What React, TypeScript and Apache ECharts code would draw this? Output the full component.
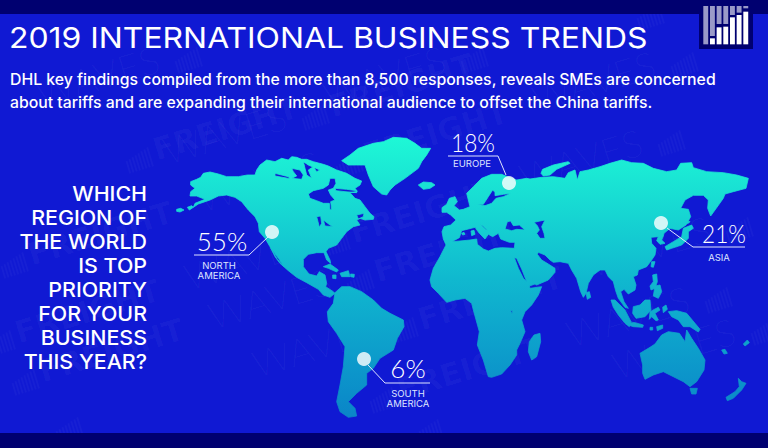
import React, { useEffect, useRef } from "react";
import * as echarts from "echarts";

type Pt = number[];
const crop = (x0: number, y0: number, pts: Pt[]): Pt[] => pts.map(([x, y]) => [x0 + x / 3, y0 + y / 3]);
const NA = (p: Pt[]) => crop(160, 120, p);
const SA = (p: Pt[]) => crop(160, 270, p);
const EU = (p: Pt[]) => crop(420, 165, p);
const RU = (p: Pt[]) => crop(440, 120, p);
const AS = (p: Pt[]) => crop(550, 220, p);
const SO = (p: Pt[]) => crop(420, 270, p);

const northAmerica = NA([[92,185],[110,178],[122,172],[130,160],[150,156],[175,162],[200,170],[235,170],[262,165],[285,165],[290,150],[300,135],[320,120],[345,125],[365,115],[385,120],[395,110],[410,112],[425,118],[440,118],[460,125],[490,133],[505,138],[530,150],[560,160],[585,175],[605,183],[600,195],[585,205],[592,214],[570,218],[585,235],[600,240],[615,260],[630,280],[642,290],[640,298],[615,300],[600,295],[590,300],[600,315],[580,320],[560,335],[545,355],[530,375],[505,385],[498,395],[510,420],[512,430],[500,420],[492,398],[470,398],[445,403],[430,418],[430,440],[447,462],[470,468],[478,455],[495,465],[500,490],[497,500],[520,515],[525,520],[510,532],[490,525],[475,508],[440,488],[410,472],[385,452],[360,430],[345,410],[330,380],[315,355],[298,335],[295,310],[285,290],[265,270],[245,245],[225,232],[200,225],[175,228],[150,240],[115,252],[100,262],[105,250],[135,238],[110,228],[90,228],[92,215],[105,205],[92,195]]);
const northAmericaWaters = [
  NA([[445,222],[460,212],[490,205],[505,195],[510,175],[525,175],[528,190],[520,205],[505,210],[512,225],[525,240],[512,245],[515,268],[510,270],[508,250],[490,250],[470,242],[450,235]]),
  NA([[525,205],[560,208],[590,212],[590,218],[555,215],[528,212]]),
  NA([[395,145],[420,150],[430,165],[425,178],[395,175],[410,168],[400,155]]),
  NA([[430,125],[445,135],[480,150],[470,155],[460,140],[445,150],[455,175],[440,165],[435,145]]),
  NA([[345,160],[385,170],[390,176],[345,168]]),
  NA([[470,290],[482,288],[485,310],[478,322],[474,305]]),
  NA([[490,300],[510,315],[520,320],[495,318]]),
  NA([[590,285],[612,280],[610,290],[595,297]]),
  NA([[333,385],[355,415],[372,440],[352,418]]),
];
const southAmerica = SA([[525,68],[545,50],[570,50],[605,65],[640,90],[665,115],[690,130],[730,150],[732,170],[712,205],[700,240],[660,265],[640,295],[620,310],[620,345],[590,370],[565,395],[585,415],[590,438],[565,442],[540,425],[530,395],[540,345],[550,290],[555,230],[530,190],[505,155],[502,125],[520,100]]);
const greenland = NA([[545,122],[570,105],[595,85],[640,70],[670,65],[700,52],[740,55],[765,70],[785,85],[812,85],[800,105],[785,125],[775,145],[735,175],[705,195],[690,210],[680,225],[665,222],[640,200],[625,165],[615,135],[590,135],[565,135]]);
const eurasiaAfrica = [
  ...EU([[70,222],[66,200],[72,185],[92,180],[108,165],[92,150],[80,142],[66,142],[66,128],[80,118],[88,100],[105,95],[112,110],[102,122],[118,135],[130,133],[150,125],[145,105],[140,85],[160,65],[185,40],[215,28],[245,28],[262,35],[290,45],[320,40]]),
  ...RU([[270,177],[305,172],[340,170],[375,175],[385,158],[405,150],[412,180],[420,155],[445,150],[480,140],[510,130],[545,120],[575,128],[610,130],[640,145],[680,155],[710,150],[722,130],[755,128],[760,143],[800,155],[850,158],[890,165],[925,175],[918,205],[880,215],[855,222],[850,235],[825,270],[812,288],[803,265],[805,240],[790,226],[760,226],[735,240],[722,265],[745,268],[752,290],[738,315],[715,330],[690,325],[672,340]]),
  ...AS([[340,48],[335,60],[345,70],[330,73],[320,62],[325,50],[303,52],[305,70],[318,85],[315,105],[305,120],[290,140],[265,150],[262,165],[250,170],[258,195],[255,210],[235,222],[222,208],[212,215],[222,245],[235,265],[225,262],[205,235],[197,212],[190,185],[175,170],[165,150],[150,150],[130,165],[115,190],[108,220],[100,232],[92,215],[80,175],[65,150],[55,130],[30,125]]),
  ...EU([[400,292],[390,285],[375,270],[355,262],[352,268],[365,285],[385,297],[405,310],[405,322],[385,345],[350,360]]),
  ...SO([[345,42],[328,48],[330,55],[365,50],[355,75],[335,105],[315,125],[305,150],[315,185],[300,220],[290,240],[290,255],[270,285],[245,312],[215,322],[205,320],[190,270],[172,225],[178,185],[160,120],[155,100],[135,85],[105,90],[80,97],[55,70],[35,50],[30,30]]),
  ...EU([[40,310],[60,275],[78,240]]),
];
const eurasiaWaters = [
  EU([[95,230],[118,218],[125,197],[165,187],[178,205],[195,222],[205,208],[218,215],[235,205],[242,222],[268,232],[285,232],[283,250],[245,248],[225,250],[205,258],[190,252],[172,238],[170,222],[150,225],[120,228]]),
  EU([[180,178],[190,184],[205,198],[195,192]]),
  EU([[255,192],[262,170],[272,168],[280,182],[298,180],[315,195],[290,193],[275,197]]),
  EU([[342,172],[360,168],[375,165],[365,185],[372,205],[375,220],[360,220],[350,205],[358,195],[352,182]]),
  EU([[170,118],[190,118],[205,95],[218,75],[225,82],[225,92],[250,88],[272,85],[250,95],[228,100],[215,115],[195,122]]),
  EU([[283,278],[290,280],[305,312],[320,350],[310,340],[295,310]]),
  SO([[272,122],[278,122],[276,132]]),
];
const australia = SO([[660,250],[690,232],[705,222],[725,195],[745,185],[778,190],[795,215],[800,180],[815,205],[835,235],[855,270],[852,300],[830,335],[810,350],[790,335],[760,320],[730,305],[700,315],[675,328],[668,310],[668,285]]);
const islands = [
  NA([[50,268],[62,265],[72,270],[60,276],[50,274]]),
  NA([[82,262],[95,257],[100,262],[88,270]]),
  NA([[490,440],[510,432],[535,450],[530,456],[505,445]]),
  NA([[540,460],[565,452],[570,470],[545,470]]),
  NA([[572,462],[583,463],[582,472],[572,470]]),
  NA([[518,465],[528,465],[528,476],[518,475]]),
  NA([[775,195],[790,186],[815,188],[825,195],[810,205],[790,208]]),
  EU([[125,205],[132,202],[135,208],[128,210]]),
  EU([[153,198],[162,196],[165,208],[155,212]]),
  RU([[303,160],[308,148],[340,135],[385,125],[390,130],[350,148],[330,165],[310,168]]),
  AS([[400,25],[425,15],[430,25],[415,35],[415,55],[395,75],[365,85],[350,90],[345,80],[370,65],[395,50]]),
  AS([[408,2],[420,5],[415,10],[405,10]]),
  AS([[305,125],[315,125],[310,142],[303,140]]),
  AS([[308,165],[320,162],[322,185],[315,205],[303,210],[300,198],[310,185]]),
  AS([[315,198],[330,195],[335,215],[325,235],[310,228]]),
  AS([[108,218],[118,215],[122,232],[112,238]]),
  AS([[183,240],[195,240],[225,270],[243,305],[238,320],[225,310],[205,285],[190,262]]),
  AS([[250,260],[270,255],[285,240],[300,240],[303,270],[285,290],[258,295],[248,280]]),
  AS([[300,275],[325,262],[330,270],[315,280],[325,300],[318,302],[305,290],[298,298]]),
  AS([[338,262],[348,255],[352,268],[340,278]]),
  SO([[620,155],[645,158],[670,165],[668,172],[640,170],[625,165]]),
  SO([[745,125],[770,122],[800,130],[825,160],[840,178],[835,186],[810,170],[790,170],[775,150],[755,140]]),
  SO([[690,172],[698,172],[698,180],[690,180]]),
  SO([[710,170],[728,165],[728,175],[712,182]]),
  SO([[810,355],[832,355],[828,372],[815,372]]),
  SO([[955,325],[965,335],[978,340],[965,360],[940,385],[922,392],[918,382],[945,365],[958,350]]),
  SO([[905,240],[915,238],[922,250],[912,252]]),
  SO([[970,222],[982,210],[988,218],[975,228]]),
  SO([[342,195],[360,190],[362,215],[350,260],[335,270],[325,245],[328,215]]),
];

const titleText = "2019 INTERNATIONAL BUSINESS TRENDS";
const introLines = [
  "DHL key findings compiled from the more than 8,500 responses, reveals SMEs are concerned",
  "about tariffs and are expanding their international audience to offset the China tariffs.",
];
const questionLines = ["WHICH", "REGION OF", "THE WORLD", "IS TOP", "PRIORITY", "FOR YOUR", "BUSINESS", "THIS YEAR?"];

const regionNames = ["North America", "Europe", "Asia", "South America"];
const regionShares = [55, 18, 21, 6];
const regionCaptions = [["NORTH", "AMERICA"], ["EUROPE"], ["ASIA"], ["SOUTH", "AMERICA"]];
const regionPoints = [[272, 232], [509, 183], [661, 223], [364, 359]];
const regionShareAnchors = [[222, 241], [473, 142], [724, 233], [408, 368]];
const regionShareWidths = [1, 0.87, 0.87, 1];
const regionCaptionAnchors = [[219, 265], [472, 163], [719, 257], [408, 393]];
const regionLeaders = [
  [[268, 237], [249, 255], [194, 255]],
  [[506, 175], [498, 156], [448, 156]],
  [[667, 228], [693, 247], [745, 247]],
  [[368, 365], [385, 383], [430, 383]],
];

const watermarkAnchors = [
  [207, 65], [-128, 165], [542, -35], [493, 65], [158, 165], [-177, 265], [33, 270], [368, 170], [703, 70],
  [-1, 222], [334, 122], [669, 22], [20, 348], [355, 248], [690, 148], [44, 387], [379, 287], [714, 187],
  [423, 335], [88, 435], [758, 235], [402, 405], [737, 305], [67, 505], [448, 437], [783, 337], [113, 537],
];
const logoGrey = [[18, 133], [18, 108], [18, 72], [18, 72], [18, 45], [18, 38], [18, 25]];
const logoWhite = [null, [115, 133], [82, 133], [80, 133], [52, 133], [45, 133], [35, 133]];

function ring(pts: Pt[], clockwise: boolean): Pt[] {
  let a = 0;
  pts.forEach((p, i) => {
    const q = pts[(i + 1) % pts.length];
    a += p[0] * q[1] - q[0] * p[1];
  });
  const ordered = a > 0 === clockwise ? pts : [...pts].reverse();
  return [...ordered, ordered[0]];
}
const poly = (outer: Pt[], holes: Pt[][] = []) => [ring(outer, true), ...holes.map((h) => ring(h, false))];

const landGeo: any = {
  type: "FeatureCollection",
  features: [{
    type: "Feature",
    properties: { name: "land" },
    geometry: {
      type: "MultiPolygon",
      coordinates: [
        poly(northAmerica, northAmericaWaters),
        poly(southAmerica),
        poly(greenland),
        poly(eurasiaAfrica, eurasiaWaters),
        poly(australia),
        ...islands.map((i) => poly(i)),
      ],
    },
  }],
};

const WHITE = "#ffffff";
const SOFT = "#dfe4ff";
const MARK = "rgba(255,255,255,0.03)";
const ANGLE = (17 * Math.PI) / 180;

// A word of the watermark is kept only when it lies wholly on the open blue page.
function wordFits(x: number, y: number, start: number, length: number, height: number) {
  const c = Math.cos(ANGLE);
  const s = Math.sin(ANGLE);
  return [[start, 0], [start + length, 0], [start, height], [start + length, height]].every(([u, v]) => {
    const px = x + u * c - v * s;
    const py = y - u * s - v * c;
    return px >= 1 && px <= 767 && py >= 15 && py <= 432;
  });
}

function watermark([x, y]: number[]) {
  const bars = [0, 1, 2, 3, 4, 5, 6, 7].map((i) => ({
    type: "rect",
    shape: { x: -30 + i * 3.4, y: -20 + (7 - i), width: 2, height: 20 - (7 - i) },
    style: { fill: MARK },
  }));
  const words: any[] = [];
  if (wordFits(x, y, 0, 170, 30)) words.push({ type: "text", x: 0, y: 0, style: { text: "FREIGHT", fontFamily: "DejaVu Sans", fontWeight: "bold", fontSize: 31, fill: MARK, textVerticalAlign: "bottom" } });
  if (wordFits(x, y, 178, 135, 30)) words.push({ type: "text", x: 178, y: 0, style: { text: "WAVES", fontFamily: "Lato", fontWeight: 300, fontSize: 38, fill: MARK, textVerticalAlign: "bottom" } });
  return { type: "group", x, y, rotation: ANGLE, z: -1, silent: true, children: [...bars, ...words] };
}

const txt = (text: string, x: number, y: number, fontSize: number, align: string, fill: string, fontFamily: string, fontWeight: any, scaleX = 1) => ({
  type: "text",
  x,
  y,
  scaleX,
  z: 20,
  silent: true,
  style: { text, fontSize, fontFamily, fontWeight, fill, textAlign: align, textVerticalAlign: "middle" },
});

export default function App() {
  const ref = useRef<HTMLDivElement>(null);
  useEffect(() => {
    document.body.style.margin = "0";
    document.body.style.background = "#1019d3";
    const chart = echarts.init(ref.current!, null, { renderer: "svg" });
    echarts.registerMap("land", landGeo);
    const elements: any[] = [
      ...watermarkAnchors.map(watermark),
      { type: "rect", z: 18, silent: true, shape: { x: 0, y: 0, width: 768, height: 14 }, style: { fill: "#000070" } },
      { type: "rect", z: 18, silent: true, shape: { x: 0, y: 433, width: 768, height: 15 }, style: { fill: "#000070" } },
      { type: "rect", z: 18, silent: true, shape: { x: 699, y: 0, width: 54, height: 49 }, style: { fill: "#000070" } },
    ];
    logoGrey.forEach((g, i) => {
      const x = 703.3 + i * 6.67;
      elements.push({ type: "rect", z: 19, silent: true, shape: { x, y: g[0] / 3, width: 4.9, height: (g[1] - g[0]) / 3 }, style: { fill: "#9a9ac8" } });
      const w = logoWhite[i];
      if (w) elements.push({ type: "rect", z: 19, silent: true, shape: { x, y: w[0] / 3, width: 4.9, height: (w[1] - w[0]) / 3 }, style: { fill: WHITE } });
    });
    elements.push(txt(titleText, 9, 37, 29, "left", WHITE, "Inter", 400, 1.1));
    introLines.forEach((l, i) => elements.push(txt(l, 10, 80 + i * 23, 15.5, "left", WHITE, "Inter", 500, 1.02)));
    questionLines.forEach((l, i) => elements.push(txt(l, 147, 194 + i * 24, 20, "right", WHITE, "Inter", 500, 1.07)));
    regionNames.forEach((_, i) => {
      elements.push({ type: "polyline", z: 15, silent: true, shape: { points: regionLeaders[i] }, style: { stroke: SOFT, lineWidth: 1, fill: "none" } });
      elements.push(txt(`${regionShares[i]}%`, regionShareAnchors[i][0], regionShareAnchors[i][1], 26, "center", WHITE, "Lato", 300, regionShareWidths[i]));
      regionCaptions[i].forEach((c, j) => elements.push(txt(c, regionCaptionAnchors[i][0], regionCaptionAnchors[i][1] + j * 10.5, 9.5, "center", SOFT, "Inter", 400)));
    });
    const landFill = () => new echarts.graphic.LinearGradient(0, 0, 0, 1, [
      { offset: 0, color: "#1ef8d6" },
      { offset: 0.5, color: "#10b9cf" },
      { offset: 1, color: "#0a85c8" },
    ]);
    chart.setOption({
      animation: false,
      backgroundColor: "#1019d3",
      geo: {
        map: "land",
        silent: true,
        left: 0,
        top: 0,
        width: 768,
        height: 448,
        aspectScale: 1,
        boundingCoords: [[0, 0], [768, 448]],
        projection: { project: (p: number[]) => [p[0], p[1]], unproject: (p: number[]) => [p[0], p[1]] },
        roam: false,
        label: { show: false },
        emphasis: { disabled: true },
        itemStyle: { borderWidth: 0.8, borderColor: landFill(), borderJoin: "round", areaColor: landFill() },
      },
      series: [{
        type: "scatter",
        coordinateSystem: "geo",
        silent: true,
        z: 10,
        symbol: "circle",
        symbolSize: 14,
        itemStyle: { color: WHITE },
        data: regionNames.map((name, i) => ({ name, value: [...regionPoints[i], regionShares[i]] })),
      }],
      graphic: { elements },
    });
    return () => chart.dispose();
  }, []);
  return <div ref={ref} style={{ width: 768, height: 448 }} />;
}
